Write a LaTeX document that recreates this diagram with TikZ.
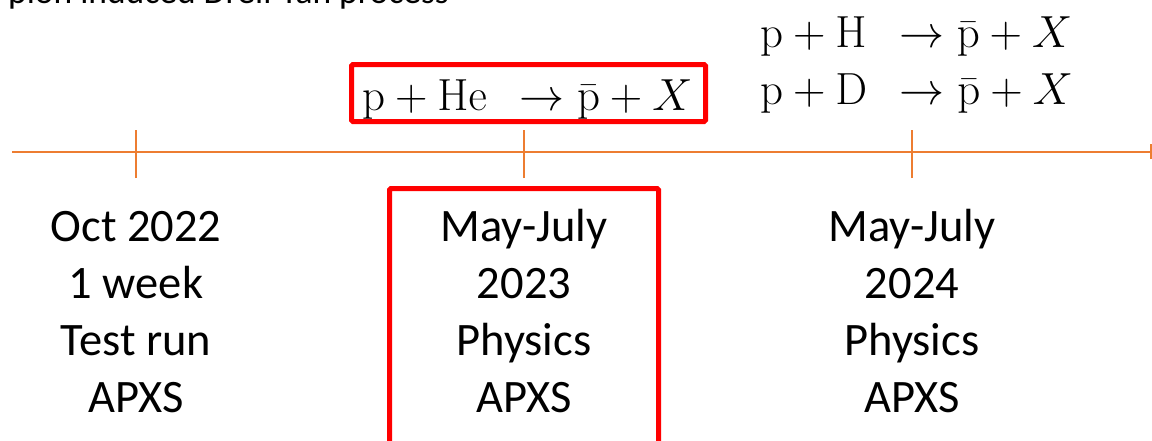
\RequirePackage{fix-cm}
\documentclass[tikz,border=0pt]{standalone}
\usepackage[no-math]{fontspec}
\setmainfont{Carlito}
\definecolor{tlorange}{RGB}{237,125,49}
\definecolor{boxred}{RGB}{255,0,0}
\tikzset{
  tline/.style={draw=tlorange, line width=2.5pt},
  redframe/.style={draw=boxred, line width=5pt, rounded corners=1.5pt, inner sep=0pt},
  coltext/.style={align=center, inner sep=0pt, font=\fontsize{46.5}{57}\selectfont},
  eqtext/.style={inner sep=0pt, font=\fontsize{45}{57}\selectfont},
}
\begin{document}
\begin{tikzpicture}[x=1pt,y=-1pt]
\useasboundingbox (0,0) rectangle (1152,440);
\fill[white] (0,0) rectangle (1152,440);
% title (cut off at top)
\node[anchor=base west, inner sep=0pt, font=\fontsize{35.5}{40}\selectfont] (title) at (8,3) {pion induced Drell-Yan process};
% timeline
\coordinate (ls) at (12,152);
\coordinate (le) at (1151,152);
\coordinate (t1) at (136,152);
\coordinate (t2) at (524,152);
\coordinate (t3) at (912,152);
\draw[tline] (ls) -- (le);
\draw[tline] ([yshift=-26pt]t1) -- ([yshift=22pt]t1);
\draw[tline] ([yshift=-26pt]t2) -- ([yshift=22pt]t2);
\draw[tline] ([yshift=-26pt]t3) -- ([yshift=22pt]t3);
\draw[tline] ([yshift=-7pt]le) -- ([yshift=8pt]le);
% red frames
\node[redframe, minimum width=354pt, minimum height=57pt] (box1) at (528.5,93) {};
\node[redframe, minimum width=269pt, minimum height=257pt] (box2) at (524,317) {};
% equations
\node[eqtext, anchor=base west] (eqHe) at (362,110) {$\mathrm{p}+\mathrm{He}\;\,\rightarrow\bar{\mathrm{p}}+X$};
\node[eqtext, anchor=base west] (eqH) at (760,47) {$\mathrm{p}+\mathrm{H}\;\,\rightarrow\bar{\mathrm{p}}+X$};
\node[eqtext, anchor=base west] (eqD) at (760,104) {$\mathrm{p}+\mathrm{D}\;\,\rightarrow\bar{\mathrm{p}}+X$};
% columns
\node[coltext, anchor=base] (c1) at (136,412) {Oct 2022\\1 week\\Test run\\APXS};
\node[coltext, anchor=base] (c2) at (524,412) {May-July\\2023\\Physics\\APXS};
\node[coltext, anchor=base] (c3) at (912,412) {May-July\\2024\\Physics\\APXS};
\end{tikzpicture}
\end{document}
